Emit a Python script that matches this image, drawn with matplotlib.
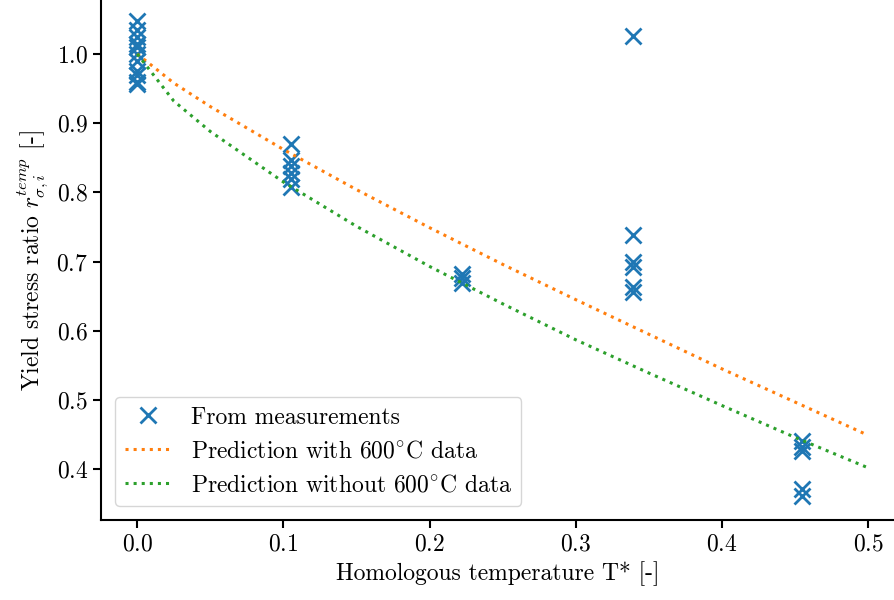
import matplotlib.pyplot as plt

plt.rcParams['font.family'] = 'serif'
plt.rcParams['font.serif'] = ['cmr10']
plt.rcParams['mathtext.fontset'] = 'cm'
plt.rcParams['axes.unicode_minus'] = False
plt.rcParams['axes.formatter.use_mathtext'] = True

# measured points
t_meas = [0.0]*11 + [0.105]*6 + [0.222]*3 + [0.339]*6 + [0.455]*5
r_meas = [1.047, 1.035, 1.025, 1.015, 1.01, 1.0, 0.99, 0.975, 0.97, 0.96, 0.957,
          0.870, 0.847, 0.838, 0.828, 0.82, 0.808,
          0.682, 0.676, 0.669,
          1.026, 0.739, 0.699, 0.692, 0.663, 0.656,
          0.441, 0.432, 0.427, 0.372, 0.361]

# predictions
t_pred = [0.0, 0.025, 0.05, 0.1, 0.15, 0.2, 0.25, 0.3, 0.35, 0.4, 0.45, 0.5]
r_with = [1.0, 0.958, 0.924, 0.862, 0.804, 0.749, 0.696, 0.645, 0.595, 0.545, 0.497, 0.449]
r_without = [1.0, 0.932, 0.888, 0.815, 0.751, 0.693, 0.639, 0.587, 0.539, 0.492, 0.446, 0.402]

fig = plt.figure(figsize=(8.95, 6.0), dpi=100)
ax = fig.add_axes([0.113, 0.133, 0.887, 0.867])

ax.plot(t_meas, r_meas, 'x', color='tab:blue', markersize=12, mew=2,
        linestyle='none', label='From measurements')
ax.plot(t_pred, r_with, ':', color='tab:orange', linewidth=2.2,
        label=r'Prediction with 600$^{\circ}$C data')
ax.plot(t_pred, r_without, ':', color='tab:green', linewidth=2.2,
        label=r'Prediction without 600$^{\circ}$C data')

ax.set_xlim(-0.0247, 0.5184)
ax.set_ylim(0.3263, 1.078)
ax.set_xticks([0.0, 0.1, 0.2, 0.3, 0.4, 0.5])
ax.set_yticks([0.4, 0.5, 0.6, 0.7, 0.8, 0.9, 1.0])
ax.spines['top'].set_visible(False)
ax.spines['right'].set_visible(False)
for s in ['left', 'bottom']:
    ax.spines[s].set_linewidth(1.5)
ax.tick_params(labelsize=17, width=1.5, length=6)

ax.set_xlabel('Homologous temperature T* [-]', fontsize=17)
ax.set_ylabel(r'Yield stress ratio $r_{\sigma,i}^{temp}$ [-]', fontsize=17)

ax.legend(loc='lower left', fontsize=17, borderaxespad=0.6)

plt.savefig('out.png', dpi=100)
